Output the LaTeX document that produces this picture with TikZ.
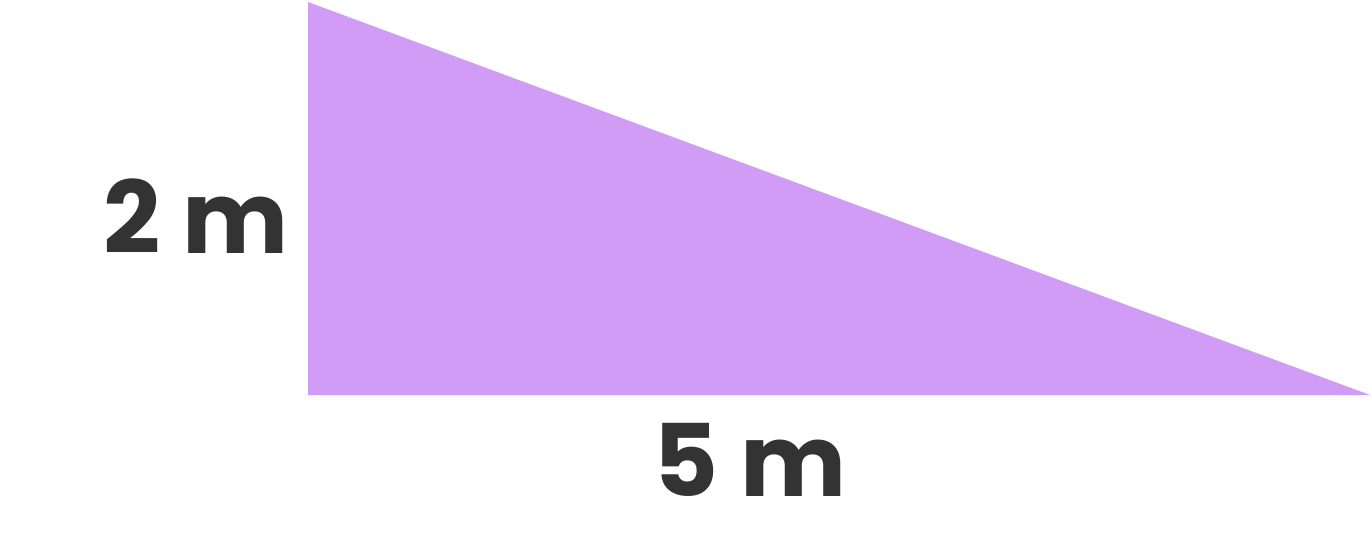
\documentclass[tikz,border=0pt]{standalone}
\usepackage{fontspec}
\setmainfont{Poppins}
\definecolor{lilac}{HTML}{D09CF6}
\definecolor{ink}{HTML}{333333}
\begin{document}
\begin{tikzpicture}[x=0.02cm, y=0.02cm,
        dim/.style={font=\fontsize{57}{57}\selectfont\bfseries, text=ink, inner sep=0pt}]

      \useasboundingbox (0,0) rectangle (1372,555);

      % triangle
      \coordinate (top) at (308,553);
      \coordinate (corner) at (308,160);
      \coordinate (tip) at (1370,160);
      \fill[lilac] (top) -- (corner) -- (tip) -- cycle;

      % side lengths
      \node[dim] (height) at (196,339) {2 m};
      \node[dim] (base) at (750,95) {5 m};
    \end{tikzpicture}
\end{document}
